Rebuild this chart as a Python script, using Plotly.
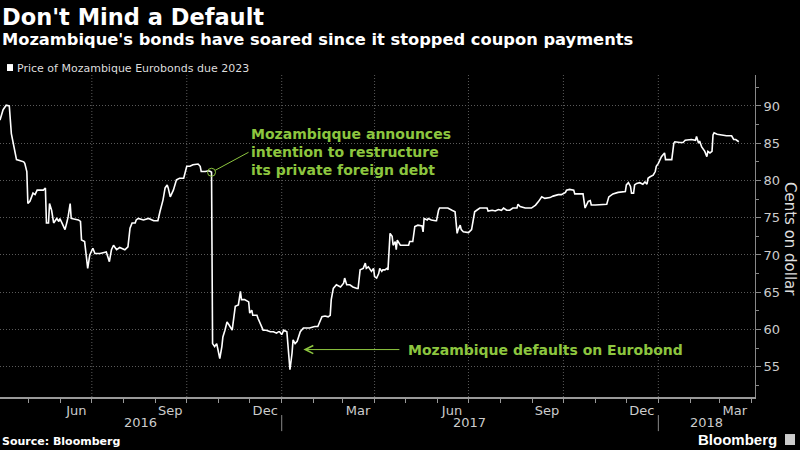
import plotly.graph_objects as go

# ---- data ----
dates = [
    "2016-04-03", "2016-04-06", "2016-04-09", "2016-04-12", "2016-04-14", "2016-04-16", "2016-04-19", "2016-04-26", "2016-04-27", "2016-04-29", "2016-04-30",
    "2016-05-02", "2016-05-05", "2016-05-07", "2016-05-09", "2016-05-15", "2016-05-17", "2016-05-18", "2016-05-20", "2016-05-21", "2016-05-23", "2016-05-25", "2016-05-28", "2016-05-30", "2016-05-31",
    "2016-06-02", "2016-06-05", "2016-06-07", "2016-06-08", "2016-06-10", "2016-06-11", "2016-06-18", "2016-06-20", "2016-06-21", "2016-06-24", "2016-06-27", "2016-06-29",
    "2016-07-02", "2016-07-04", "2016-07-09", "2016-07-15", "2016-07-18", "2016-07-20", "2016-07-22", "2016-07-25", "2016-07-28",
    "2016-08-02", "2016-08-05", "2016-08-07", "2016-08-09", "2016-08-12", "2016-08-13", "2016-08-15", "2016-08-20", "2016-08-25", "2016-08-30",
    "2016-09-03", "2016-09-05", "2016-09-08", "2016-09-10", "2016-09-12", "2016-09-13", "2016-09-15", "2016-09-18", "2016-09-21", "2016-09-24", "2016-09-28",
    "2016-10-01", "2016-10-04", "2016-10-07", "2016-10-12", "2016-10-14", "2016-10-15", "2016-10-19", "2016-10-22", "2016-10-24", "2016-10-25", "2016-10-26", "2016-10-28", "2016-10-30",
    "2016-11-02", "2016-11-04", "2016-11-05", "2016-11-07", "2016-11-09", "2016-11-11", "2016-11-14", "2016-11-17", "2016-11-20", "2016-11-22", "2016-11-23", "2016-11-26", "2016-11-30",
    "2016-12-01", "2016-12-03", "2016-12-04", "2016-12-08", "2016-12-09", "2016-12-13", "2016-12-14", "2016-12-17", "2016-12-21", "2016-12-24", "2016-12-27", "2016-12-29", "2016-12-30",
    "2017-01-01", "2017-01-03", "2017-01-06", "2017-01-07", "2017-01-09", "2017-01-11", "2017-01-12", "2017-01-14", "2017-01-16", "2017-01-19", "2017-01-22", "2017-01-28",
    "2017-02-02", "2017-02-05", "2017-02-07", "2017-02-09", "2017-02-12", "2017-02-15", "2017-02-17", "2017-02-18", "2017-02-20", "2017-02-23", "2017-02-27",
    "2017-03-02", "2017-03-03", "2017-03-05", "2017-03-08", "2017-03-11", "2017-03-15", "2017-03-16", "2017-03-18", "2017-03-21", "2017-03-23", "2017-03-24", "2017-03-26", "2017-03-28", "2017-03-29", "2017-03-31",
    "2017-04-01", "2017-04-03", "2017-04-05", "2017-04-06", "2017-04-08", "2017-04-09", "2017-04-11", "2017-04-13", "2017-04-14", "2017-04-16", "2017-04-18", "2017-04-19", "2017-04-21", "2017-04-22", "2017-04-23", "2017-04-26", "2017-04-29",
    "2017-05-04", "2017-05-05", "2017-05-08", "2017-05-10", "2017-05-13", "2017-05-17", "2017-05-18", "2017-05-19", "2017-05-22", "2017-05-23", "2017-05-26", "2017-05-30", "2017-05-31",
    "2017-06-02", "2017-06-03", "2017-06-07", "2017-06-11", "2017-06-15", "2017-06-18", "2017-06-20", "2017-06-21", "2017-06-23", "2017-06-24", "2017-06-26",
    "2017-07-01", "2017-07-04", "2017-07-06", "2017-07-07", "2017-07-09", "2017-07-12", "2017-07-19", "2017-07-20", "2017-07-24", "2017-07-27", "2017-07-30",
    "2017-08-02", "2017-08-04", "2017-08-07", "2017-08-10", "2017-08-13", "2017-08-17", "2017-08-18", "2017-08-20", "2017-08-25", "2017-08-31",
    "2017-09-04", "2017-09-07", "2017-09-10", "2017-09-13", "2017-09-18", "2017-09-21", "2017-09-26", "2017-09-29",
    "2017-10-01", "2017-10-03", "2017-10-04", "2017-10-07", "2017-10-11", "2017-10-12", "2017-10-15", "2017-10-20", "2017-10-22", "2017-10-24", "2017-10-25", "2017-10-27", "2017-10-28",
    "2017-11-01", "2017-11-07", "2017-11-12", "2017-11-14", "2017-11-18", "2017-11-23", "2017-11-28", "2017-11-30",
    "2017-12-01", "2017-12-03", "2017-12-05", "2017-12-06", "2017-12-08", "2017-12-09", "2017-12-11", "2017-12-14", "2017-12-17", "2017-12-19", "2017-12-21", "2017-12-22", "2017-12-24", "2017-12-27", "2017-12-29", "2017-12-30",
    "2018-01-01", "2018-01-03", "2018-01-04", "2018-01-07", "2018-01-08", "2018-01-11", "2018-01-14", "2018-01-16", "2018-01-17", "2018-01-22", "2018-01-25", "2018-01-27", "2018-01-30",
    "2018-02-02", "2018-02-06", "2018-02-07", "2018-02-09", "2018-02-10", "2018-02-12", "2018-02-14", "2018-02-15", "2018-02-17", "2018-02-18", "2018-02-20", "2018-02-22", "2018-02-23", "2018-02-24", "2018-02-27",
    "2018-03-03", "2018-03-08", "2018-03-13", "2018-03-15", "2018-03-17", "2018-03-20",
]

price = [
    88.1, 89.5, 90.1, 90.0, 86.3, 85.0, 82.8, 82.5, 82.3, 81.2, 76.9,
    77.2, 78.3, 78.1, 78.7, 78.7, 79.0, 74.3, 74.3, 76.9, 76.0, 74.3, 74.9, 74.5, 74.9,
    74.3, 73.4, 74.5, 75.1, 76.9, 74.9, 74.7, 74.5, 72.0, 71.8, 68.2, 70.0,
    70.9, 70.2, 70.2, 70.4, 69.1, 70.7, 71.3, 70.7, 71.0,
    70.7, 71.1, 73.6, 74.3, 74.3, 74.7, 74.9, 74.7, 74.9, 74.6,
    74.6, 75.8, 77.4, 79.0, 79.4, 79.0, 77.8, 78.7, 80.1, 80.3, 80.3,
    81.9, 81.9, 82.1, 82.2, 81.9, 81.2, 81.2, 81.3, 81.2, 81.1, 58.1, 57.7, 58.1,
    56.1, 57.7, 59.0, 59.9, 61.0, 60.6, 59.9, 63.1, 63.3, 65.1, 64.0, 64.0, 63.7,
    62.2, 62.6, 61.9, 61.9, 61.5, 60.2, 59.9, 59.9, 59.7, 59.7, 59.5, 59.7, 59.7,
    59.3, 59.9, 59.7, 58.1, 54.6, 56.8, 58.6, 58.1, 58.4, 59.7, 60.2, 60.2,
    60.4, 60.4, 61.0, 61.7, 61.8, 61.7, 61.9, 64.0, 65.5, 66.0, 65.7,
    66.2, 66.9, 66.0, 66.0, 65.7, 65.5, 65.5, 68.0, 68.2, 68.9, 68.2, 68.4, 68.0, 67.8, 68.2,
    67.1, 66.9, 67.5, 68.2, 67.8, 68.0, 68.0, 68.2, 68.0, 72.9, 72.5, 71.3, 71.8, 70.7, 72.0, 71.3, 71.3,
    71.3, 71.8, 71.8, 73.8, 74.0, 73.9, 73.1, 74.9, 74.7, 74.9, 74.7, 74.6, 74.6,
    76.0, 76.3, 76.3, 76.3, 76.0, 75.8, 72.9, 73.4, 74.0, 73.4, 73.1,
    73.0, 73.4, 74.7, 75.8, 76.0, 76.3, 76.3, 75.9, 76.0, 75.9, 76.1,
    76.0, 76.3, 76.0, 76.0, 76.3, 76.3, 76.8, 76.5, 76.3, 76.3,
    76.7, 77.2, 77.8, 77.6, 77.7, 77.9, 78.1, 78.1,
    78.2, 78.4, 78.7, 78.8, 78.7, 78.2, 78.2, 78.2, 76.3, 76.9, 77.2, 77.3, 76.7,
    76.7, 76.7, 76.8, 77.8, 78.2, 78.4, 78.5, 78.5,
    79.4, 79.7, 79.2, 78.3, 78.3, 79.4, 79.6, 79.7, 79.5, 79.8, 79.5, 80.3, 80.5, 80.7, 81.2, 81.9,
    82.3, 82.8, 83.2, 83.7, 82.8, 82.8, 82.8, 85.0, 85.2, 85.1, 85.1, 85.4, 85.5,
    85.5, 85.4, 85.9, 85.0, 85.3, 84.5, 84.1, 83.9, 83.2, 83.9, 83.7, 83.9, 86.1, 86.4, 86.2,
    86.1, 86.0, 86.0, 85.5, 85.5, 85.2,
]
assert len(dates) == len(price)

tick_dates = ["2016-06-16", "2016-09-15", "2016-12-16", "2017-03-16",
              "2017-06-15", "2017-09-15", "2017-12-16", "2018-03-16"]
tick_text = ["Jun", "Sep", "Dec", "Mar", "Jun", "Sep", "Dec", "Mar"]
grid_dates = ["2016-07-01", "2016-10-01", "2017-01-01", "2017-04-01",
              "2017-07-01", "2017-10-01", "2018-01-01"]
year_breaks = ["2017-01-01", "2018-01-01"]
year_labels = ["2016", "2017", "2018"]
year_label_x = [0.186, 0.622, 0.936]

restructure_date = "2016-10-25"
restructure_price = price[dates.index(restructure_date)]
default_date = "2017-01-22"
default_level = 57.3

GREEN = "#8DC63F"
FONT = "DejaVu Sans"
GRID = "#5a5a5a"
GRID_DASH = "1px,2px"

fig = go.Figure()
fig.add_trace(go.Scatter(
    x=dates, y=price, mode="lines",
    line=dict(color="white", width=1.6),
    showlegend=False, hoverinfo="x+y",
))
fig.add_trace(go.Scatter(
    x=[restructure_date], y=[restructure_price], mode="markers",
    marker=dict(symbol="circle-open", size=8, color=GREEN, line=dict(width=1, color=GREEN)),
    showlegend=False, hoverinfo="skip",
))

shapes = []
for d in grid_dates:
    shapes.append(dict(type="line", xref="x", yref="paper", x0=d, x1=d, y0=0, y1=1,
                       line=dict(color=GRID, width=1, dash=GRID_DASH), layer="below"))
for d in year_breaks:
    shapes.append(dict(type="line", xref="x", yref="paper", x0=d, x1=d, y0=-0.056, y1=-0.106,
                       line=dict(color="#888", width=1)))
# legend swatch
shapes.append(dict(type="rect", xref="paper", yref="paper", x0=0.0093, x1=0.0172, y0=1.0124, y1=1.034,
                   fillcolor="white", line=dict(width=0)))
# small logo icon
shapes.append(dict(type="rect", xref="paper", yref="paper", x0=1.0397, x1=1.053, y0=-0.149, y1=-0.115,
                   fillcolor="#cccccc", line=dict(width=0)))

annotations = [
    dict(text="Don't Mind a Default", xref="paper", yref="paper", x=0, y=1.181,
         xanchor="left", yanchor="middle", showarrow=False,
         font=dict(family=FONT, size=22.5, color="white", weight="bold")),
    dict(text="Mozambique's bonds have soared since it stopped coupon payments", xref="paper", yref="paper",
         x=0, y=1.111, xanchor="left", yanchor="middle", showarrow=False,
         font=dict(family=FONT, size=16.3, color="white", weight="bold")),
    dict(text="Price of Mozambique Eurobonds due 2023", xref="paper", yref="paper", x=0.02, y=1.0217,
         xanchor="left", yanchor="middle", showarrow=False,
         font=dict(family=FONT, size=11, color="#dddddd")),
    dict(text="Cents on dollar", xref="paper", yref="paper", x=1.0464, y=0.4907, textangle=90,
         xanchor="center", yanchor="middle", showarrow=False,
         font=dict(family=FONT, size=15, color="#dddddd")),
    dict(text="Source: Bloomberg", xref="paper", yref="paper", x=0, y=-0.137,
         xanchor="left", yanchor="middle", showarrow=False,
         font=dict(family=FONT, size=11, color="white", weight="bold")),
    dict(text="Bloomberg", xref="paper", yref="paper", x=1.032, y=-0.132,
         xanchor="right", yanchor="middle", showarrow=False,
         font=dict(family="Liberation Sans", size=15, color="white", weight="bold")),
    dict(text="Mozambiqque announces<br>intention to restructure<br>its private foreign debt",
         x=restructure_date, y=restructure_price, xref="x", yref="y",
         ax=37, ay=-20, showarrow=True, arrowhead=0, arrowwidth=1, arrowcolor=GREEN, standoff=4,
         xanchor="left", yanchor="middle", align="left", borderpad=1,
         font=dict(family=FONT, size=14, color=GREEN, weight="bold")),
    dict(text="Mozambique defaults on Eurobond",
         x=default_date, y=default_level, xref="x", yref="y",
         ax=96, ay=0, showarrow=True, arrowhead=5, arrowsize=1.6, arrowwidth=1, arrowcolor=GREEN,
         xanchor="left", yanchor="middle", align="left", borderpad=8,
         font=dict(family=FONT, size=14, color=GREEN, weight="bold")),
]
for lbl, xx in zip(year_labels, year_label_x):
    annotations.append(dict(text=lbl, xref="paper", yref="paper", x=xx, y=-0.0807,
                            xanchor="center", yanchor="middle", showarrow=False,
                            font=dict(family=FONT, size=13, color="#cccccc")))

fig.update_layout(
    width=800, height=450,
    margin=dict(l=0, r=45, t=75, b=53, pad=0),
    paper_bgcolor="black", plot_bgcolor="black",
    showlegend=False,
    shapes=shapes, annotations=annotations,
    xaxis=dict(
        type="date", range=["2016-04-03", "2018-04-04 16:00"],
        tickmode="array", tickvals=tick_dates, ticktext=tick_text,
        ticks="outside", ticklen=0, tickcolor="#999",
        tickfont=dict(family=FONT, size=13, color="#cccccc"),
        showgrid=False, zeroline=False,
        showline=True, linecolor="#999", linewidth=2,
        minor=dict(tickmode="linear", tick0="2016-01-01", dtick="M1", ticks="outside",
                   ticklen=4, tickcolor="#999", showgrid=False),
        automargin=False, fixedrange=True,
    ),
    yaxis=dict(
        side="right", range=[50.93, 94.16],
        tick0=0, dtick=5, ticks="outside", ticklen=5, tickcolor="#888",
        tickfont=dict(family=FONT, size=13, color="#cccccc"),
        showgrid=True, gridcolor=GRID, griddash=GRID_DASH, gridwidth=1,
        zeroline=False, showline=True, linecolor="#888", linewidth=1,
        minor=dict(tick0=0, dtick=2.5, ticks="outside", ticklen=3, tickcolor="#888", showgrid=False),
        automargin=False, fixedrange=True,
    ),
)

fig.write_html(
    "out.html",
    config={"displayModeBar": False},
    post_script="document.body.style.margin='0';document.body.style.padding='0';"
                "document.body.style.overflow='hidden';document.body.style.background='black';",
)
